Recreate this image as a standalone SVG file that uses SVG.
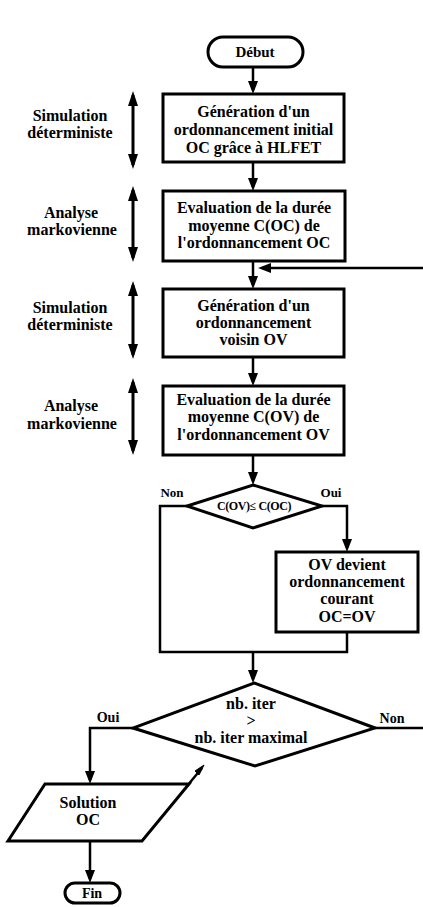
<svg xmlns="http://www.w3.org/2000/svg" width="423" height="907" viewBox="0 0 423 907" font-family="'Liberation Serif', 'Times New Roman', serif">
<style>
text{font-family:'Liberation Serif','Times New Roman',serif;font-weight:bold;fill:#000;text-anchor:middle}
.t{font-size:16px}
.s{font-size:13px}
.shape{fill:#fff;stroke:#000;stroke-width:3;stroke-linejoin:miter}
.c{fill:none;stroke:#000;stroke-width:2.5}
.d{fill:none;stroke:#000;stroke-width:3}
</style>
<defs>
<marker id="ah" markerUnits="userSpaceOnUse" markerWidth="13" markerHeight="10" refX="9" refY="5" orient="auto">
<path d="M0,0 L13,5 L0,10 z" fill="#000"/>
</marker>
<marker id="dh" markerUnits="userSpaceOnUse" markerWidth="15" markerHeight="10" refX="11" refY="5" orient="auto-start-reverse">
<path d="M0,0 L15,5 L0,10 z" fill="#000"/>
</marker>
</defs>

<g id="connectors">
<line class="c" x1="253" y1="67" x2="253" y2="90" marker-end="url(#ah)"/>
<line class="c" x1="253" y1="162" x2="253" y2="187" marker-end="url(#ah)"/>
<line class="c" x1="253" y1="261" x2="253" y2="285" marker-end="url(#ah)"/>
<line class="c" x1="423" y1="268" x2="262" y2="268" marker-end="url(#ah)"/>
<line class="c" x1="253" y1="357" x2="253" y2="382" marker-end="url(#ah)"/>
<line class="c" x1="253" y1="455" x2="253" y2="481" marker-end="url(#ah)"/>
<polyline class="c" points="322,506 347,506 347,548" marker-end="url(#ah)"/>
<polyline class="c" points="187,506 160,506 160,652 347,652 347,632"/>
<line class="c" x1="253" y1="652" x2="253" y2="679" marker-end="url(#ah)"/>
<line class="c" x1="375" y1="728" x2="423" y2="728"/>
<polyline class="c" points="133,728 90,728 90,780" marker-end="url(#ah)"/>
<line class="c" x1="90" y1="841" x2="90" y2="879" marker-end="url(#ah)"/>
<line class="c" x1="187" y1="786" x2="202" y2="768"/>
<path d="M204,765 L195,771 L199,775 z" fill="#000" stroke="#000" stroke-width="1"/>
<line class="d" x1="133" y1="95" x2="133" y2="165" marker-start="url(#dh)" marker-end="url(#dh)"/>
<line class="d" x1="133" y1="190" x2="133" y2="258" marker-start="url(#dh)" marker-end="url(#dh)"/>
<line class="d" x1="133" y1="285" x2="133" y2="355" marker-start="url(#dh)" marker-end="url(#dh)"/>
<line class="d" x1="133" y1="382" x2="133" y2="451" marker-start="url(#dh)" marker-end="url(#dh)"/>
</g>

<g id="debut">
<rect class="shape" x="208" y="37" width="95" height="30" rx="15"/>
<text style="font-size:15px" x="255" y="57">Début</text>
</g>

<g id="gen-initial">
<rect class="shape" x="163" y="94" width="181" height="68"/>
<text class="t" x="253.5" y="117">Génération d'un</text>
<text class="t" x="253.5" y="135">ordonnancement initial</text>
<text class="t" x="253.5" y="153">OC grâce à HLFET</text>
</g>

<g id="eval-oc">
<rect class="shape" x="163" y="191" width="182" height="70"/>
<text class="t" x="254" y="213">Evaluation de la durée</text>
<text class="t" x="254" y="231">moyenne C(OC) de</text>
<text class="t" x="254" y="248">l'ordonnancement OC</text>
</g>

<g id="gen-voisin">
<rect class="shape" x="163" y="289" width="181" height="68"/>
<text class="t" x="253.5" y="311">Génération d'un</text>
<text class="t" x="253.5" y="328">ordonnancement</text>
<text class="t" x="253.5" y="345">voisin OV</text>
</g>

<g id="eval-ov">
<rect class="shape" x="163" y="386" width="181" height="69"/>
<text class="t" x="253.5" y="405">Evaluation de la durée</text>
<text class="t" x="253.5" y="422">moyenne C(OV) de</text>
<text class="t" x="253.5" y="440">l'ordonnancement OV</text>
</g>

<g id="cmp">
<polygon class="shape" points="253,485 322,506 253,528 187,506"/>
<text x="254" y="510" style="font-size:12px;letter-spacing:-0.4px">C(OV)≤ C(OC)</text>
<text class="s" x="172" y="497">Non</text>
<text class="s" x="331" y="497">Oui</text>
</g>

<g id="update">
<rect class="shape" x="276" y="552" width="142" height="80"/>
<text class="t" x="347" y="570">OV devient</text>
<text class="t" x="347" y="587">ordonnancement</text>
<text class="t" x="347" y="604">courant</text>
<text class="t" x="347" y="622">OC=OV</text>
</g>

<g id="iter">
<polygon class="shape" points="254,683 375,728 255,766 133,728"/>
<text class="t" x="251" y="709">nb. iter</text>
<text class="t" x="251" y="726">&gt;</text>
<text class="t" x="251" y="743">nb. iter maximal</text>
<text style="font-size:14px" x="108" y="722">Oui</text>
<text style="font-size:14px" x="392" y="723">Non</text>
</g>

<g id="solution">
<polygon class="shape" points="45,784 189,784 142,841 8,841"/>
<text class="t" x="88" y="808">Solution</text>
<text class="t" x="88" y="825">OC</text>
</g>

<g id="fin">
<rect class="shape" x="65" y="883" width="55" height="20" rx="10"/>
<text style="font-size:14px" x="92" y="898">Fin</text>
</g>

<g id="labels">
<text class="t" x="70" y="121">Simulation</text>
<text class="t" x="70" y="137.5">déterministe</text>
<text class="t" x="71" y="218">Analyse</text>
<text class="t" x="72" y="235">markovienne</text>
<text class="t" x="70" y="313">Simulation</text>
<text class="t" x="70" y="330">déterministe</text>
<text class="t" x="71" y="411">Analyse</text>
<text class="t" x="72" y="429">markovienne</text>
</g>
</svg>
